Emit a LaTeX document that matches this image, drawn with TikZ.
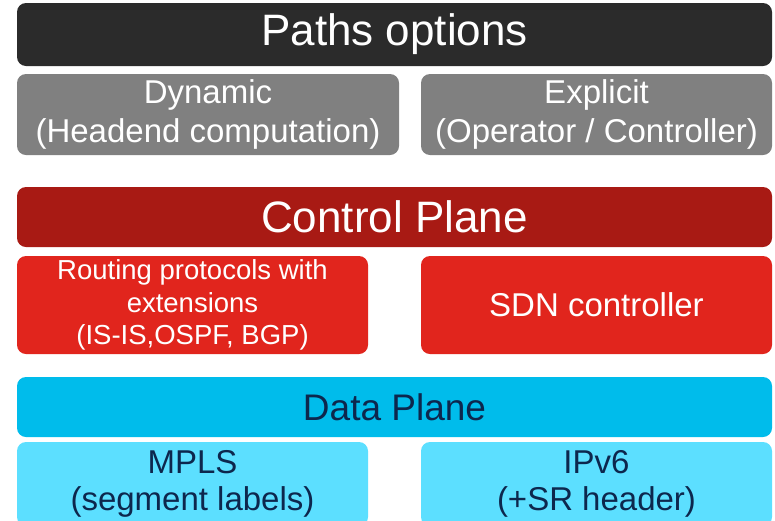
\documentclass[tikz,border=0pt]{standalone}
\usepackage{fontspec}
\setmainfont{Liberation Sans}
\definecolor{topc}{HTML}{2B2B2B}
\definecolor{grayc}{HTML}{808080}
\definecolor{dredc}{HTML}{A81A14}
\definecolor{redc}{HTML}{E1251D}
\definecolor{cyanc}{HTML}{00BCEB}
\definecolor{lcyanc}{HTML}{5CDFFF}
\definecolor{navyc}{HTML}{0D274D}
\tikzset{
  box/.style={rounded corners=9pt, inner sep=0pt, align=center, draw=none},
  hdr/.style={box, minimum width=755pt, minimum height=61pt},
  sub/.style={box, minimum height=81pt},
  big/.style={font=\fontsize{44}{50}\selectfont},
  med/.style={font=\fontsize{33}{39}\selectfont},
}
\begin{document}
\begin{tikzpicture}[x=1pt,y=-1pt]
\useasboundingbox (0,0) rectangle (775,520);
\clip (0,0) rectangle (775,520);
\fill[white] (0,0) rectangle (775,520);
\node[hdr, fill=topc, text=white, big, minimum height=63pt] (top) at (394.5,34.5) {Paths options};
\node[sub, fill=grayc, text=white, med, minimum width=382pt] (dyn) at (208,114.5) {Dynamic\\(Headend computation)};
\node[sub, fill=grayc, text=white, med, minimum width=351pt] (exp) at (596.5,114.5) {Explicit\\(Operator / Controller)};
\node[hdr, fill=dredc, text=white, big, minimum height=60pt] (cp) at (394.5,217) {Control Plane};
\node[sub, fill=redc, text=white, font=\fontsize{27.5}{32.5}\selectfont, minimum width=351pt, minimum height=98pt] (rp) at (192.5,305) {Routing protocols with\\extensions\\(IS-IS,OSPF, BGP)};
\node[sub, fill=redc, text=white, med, minimum width=351pt, minimum height=98pt] (sdn) at (596.5,305) {SDN controller};
\node[hdr, fill=cyanc, text=navyc, font=\fontsize{37}{42}\selectfont, minimum height=60pt] (dp) at (394.5,407) {Data Plane};
\node[sub, fill=lcyanc, text=navyc, font=\fontsize{33}{37}\selectfont, minimum width=351pt, minimum height=84pt] (mpls) at (192.5,484) {MPLS\\(segment labels)};
\node[sub, fill=lcyanc, text=navyc, font=\fontsize{33}{37}\selectfont, minimum width=351pt, minimum height=84pt] (ipv6) at (596.5,484) {IPv6\\(+SR header)};
\end{tikzpicture}
\end{document}
